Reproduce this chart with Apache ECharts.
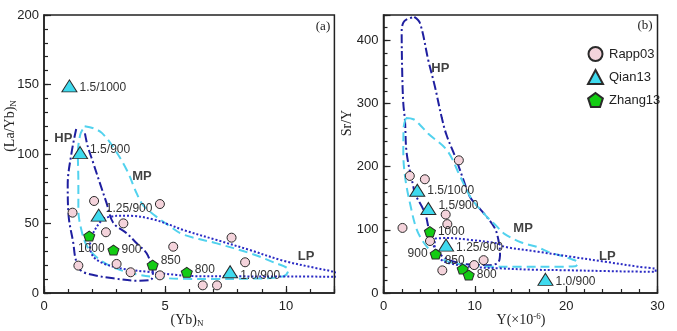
<!DOCTYPE html>
<html>
<head>
<meta charset="utf-8">
<script src="https://cdn.jsdelivr.net/npm/echarts@6/dist/echarts.min.js"></script>
<style>html,body{margin:0;padding:0;background:#fff;}#c{width:677px;height:331px;}</style>
</head>
<body>
<div id="c"></div>
<script>
// ---------- Panel (a): (Yb)N vs (La/Yb)N ----------
const rappA_x = [1.18, 2.07, 1.42, 2.56, 3.28, 3.0, 3.58, 4.79, 4.79, 5.34, 6.56, 7.15, 7.75, 8.31];
const rappA_y = [57.8, 66.2, 19.7, 43.7, 50.1, 20.9, 14.9, 12.7, 64, 33.3, 5.5, 5.5, 39.8, 22.1];
const qianA_x = [1.05, 1.49, 2.26, 7.69];
const qianA_y = [149, 101, 56, 15.3];
const qianA_lab = ['1.5/1000', '1.5/900', '1.25/900', '1.0/900'];
const zhangA_x = [1.87, 2.87, 4.49, 5.9];
const zhangA_y = [41, 30.9, 20.1, 14.9];
const zhangA_lab = ['1000', '900', '850', '800'];
const hpA = [[1.33,118],[1.14,101],[0.98,78],[1.02,55],[1.21,36],[1.3,25],[1.5,16.5],[2.04,12.9],[2.86,10.6],[3.83,8.8],[4.4,9.4],[4.5,14],[4.45,19],[4.24,28.6],[3.83,35.8],[3.42,42.9],[2.86,50.5],[2.59,64.5],[2.31,79],[2.04,93.3],[1.8,106],[1.68,116]];
const mpA = [[1.68,120],[2.05,118.5],[2.4,115],[2.86,105],[3.42,88.5],[3.83,71.7],[4.1,63],[4.6,55.5],[5.2,48],[5.76,42],[7.14,35.7],[8.51,28.6],[9.5,22],[10.1,16.5],[9.9,12],[8.5,10.3],[7,10.1],[5.8,10.2],[4.8,11],[3.8,13.5],[3.0,17.5],[2.3,24],[1.8,33],[1.55,45],[1.42,60],[1.42,80],[1.4,100],[1.5,114],[1.68,120]];
const lpA = [[2.45,53.7],[3.0,55.5],[3.6,55.5],[4.5,53],[5.2,49],[5.76,45.3],[7.14,38.1],[8.51,30.9],[9.89,23.2],[11.27,17.8],[12.1,14.6],[12.2,12.6],[12.0,11.7],[11,11.8],[9.9,11.8],[8,12],[6,12.2],[5.48,13],[4.24,15.3],[3.14,17.8],[2.45,21.4],[2.04,26.1],[1.9,33.3],[1.97,40.5],[2.18,47.7],[2.45,53.7]];
const regionA_lab = ['HP', 'MP', 'LP'];
const regionA_pos = [[0.8,111.3],[4.05,83.7],[10.83,26.1]];

// ---------- Panel (b): Y vs Sr/Y ----------
const rappB_x = [8.25, 2.88, 4.53, 2.08, 6.81, 6.99, 5.09, 6.44, 9.93, 10.96];
const rappB_y = [210, 185.3, 180, 103, 124.2, 109, 82.3, 35.8, 44.2, 52];
const qianB_x = [3.70, 4.91, 6.85, 17.73];
const qianB_y = [162.6, 133.7, 75.8, 21.6];
const qianB_lab = ['1.5/1000', '1.5/900', '1.25/900', '1.0/900'];
const zhangB_x = [5.08, 5.71, 8.67, 9.33];
const zhangB_y = [97, 61.6, 37.9, 28.4];
const zhangB_lab = ['1000', '900', '850', '800'];
const hpB = [[3.37,437],[4.0,427],[4.91,368],[5.64,326],[6.37,278],[6.9,250],[7.87,215],[8.78,178],[9.47,152],[10.2,139],[11.3,120.5],[12.21,102],[12.58,84],[12.76,63],[12.58,49],[11.66,44],[10,45],[8.38,47],[6.55,57],[5.45,76],[5.02,97],[4.55,126],[3.45,157],[3.27,168],[2.54,221],[2.35,273],[2.17,300],[2.06,342],[1.99,415],[2.17,428],[2.54,433],[3.37,437]];
const mpB = [[2.45,277],[3.27,275],[4.0,266],[4.91,252],[6.95,226],[8.41,184],[9.51,152],[10.97,126],[12.43,105],[13.2,94],[15.1,80],[16.8,73],[18.05,65],[20.5,54],[21.3,48],[21.0,42.5],[19,41.5],[15,41.5],[11,42],[9,44],[7,50],[5.5,62],[4.4,80],[3.6,102],[2.9,142],[2.4,180],[2.17,221],[2.2,262],[2.45,277]];
const lpB = [[5.64,86.3],[6.95,87],[9.51,84],[12.43,78.5],[13.3,73],[16.96,65.2],[20.6,57.3],[24.3,49.4],[27.9,41.6],[29.8,37.4],[29.8,33.5],[27,34],[24.3,34.7],[20,36],[16,37],[12.8,39],[9.47,41.6],[7.28,46.9],[6.37,52],[5.82,62.7],[5.6,75],[5.64,86.3]];
const regionB_lab = ['HP', 'MP', 'LP'];
const regionB_pos = [[6.22,354.8],[15.28,102.2],[24.5,57.3]];

// ---------- styles ----------
const SANS = 'Liberation Sans, Arial, sans-serif';
const SERIF = 'Liberation Serif, Times New Roman, serif';
const PENT = 'path://M50,0 L97.6,34.5 L79.4,90.5 L20.6,90.5 L2.4,34.5 Z';
const C_RAPP = '#f4d3db', C_QIAN = '#3fdaee', C_ZHANG = '#13cc13', C_EDGE = '#2a2a2a';
const C_HP = '#1f1fa0', C_MP = '#52d2ee', C_LP = '#2a2ac4';

// label placements (style only)
const qianA_lp = [['right',[0,2]],['right',[0,-3]],['right',[-3,-6]],['right',[0,4]]];
const zhangA_lp = [['bottom',[2,-1]],['right',[0,0]],['right',[0,-4]],['right',[0,-3]]];
const qianB_lp = [['right',[0,0]],['right',[0,-3]],['right',[0,3]],['right',[0,2]]];
const zhangB_lp = [['right',[0,0]],['left',[0,0]],['left',[10,-8]],['right',[0,0]]];

function pts(xs, ys, labs, lps) {
  return xs.map((x, i) => {
    const d = { value: [x, ys[i]] };
    if (labs) {
      d.name = labs[i];
      d.label = { show: true, position: lps[i][0], offset: lps[i][1], distance: 2,
        formatter: '{b}', fontSize: 12, color: '#333', fontFamily: SANS };
    }
    return d;
  });
}
function curve(data, color, type, xi, clip) {
  return { type: 'line', xAxisIndex: xi, yAxisIndex: xi, data: data, smooth: 0.35,
    showSymbol: false, symbol: 'none', clip: clip !== false, z: 2, silent: true,
    lineStyle: { color: color, width: 2, type: type } };
}
function regions(pos, labs, xi) {
  return { type: 'scatter', xAxisIndex: xi, yAxisIndex: xi, symbolSize: 1, silent: true, z: 4,
    itemStyle: { color: 'rgba(0,0,0,0)' },
    data: pos.map((p, i) => ({ value: p, name: labs[i] })),
    label: { show: true, position: 'inside', formatter: '{b}', fontSize: 13, fontWeight: 'bold',
      color: '#111', fontFamily: SANS } };
}
function markers(name, sym, size, color, data, xi) {
  return { type: 'scatter', name: name, xAxisIndex: xi, yAxisIndex: xi, symbol: sym, symbolSize: size,
    z: 5, silent: true, itemStyle: { color: color, borderColor: C_EDGE, borderWidth: 1, opacity: 1 },
    data: data };
}
function valAxis(dim, grid, min, max, interval, major, long, pos) {
  const a = { type: 'value', gridIndex: grid, min: min, max: max, interval: interval, position: pos,
    splitLine: { show: false },
    axisLine: { show: !long, onZero: false, lineStyle: { color: '#222', width: 1.5 } },
    axisTick: { show: true, inside: true, length: long ? 7 : 4, lineStyle: { color: '#222', width: 1.2 } },
    axisLabel: long ? { show: false } : { show: true, margin: dim === 'x' ? 7 : 5,
      fontSize: 13, color: '#222', fontFamily: SANS,
      formatter: v => (Math.abs(v / major - Math.round(v / major)) < 1e-6 ? String(v) : '') } };
  return a;
}

const option = {
  animation: false,
  backgroundColor: '#fff',
  grid: [
    { left: 44, top: 15, width: 290.4, height: 278, show: true, borderColor: '#222', borderWidth: 1.5 },
    { left: 383.5, top: 15, width: 274, height: 278, show: true, borderColor: '#222', borderWidth: 1.5 }
  ],
  xAxis: [
    valAxis('x', 0, 0, 12, 1, 5, false, 'bottom'),
    valAxis('x', 0, 0, 12, 5, 5, true, 'bottom'),
    valAxis('x', 1, 0, 30, 2, 10, false, 'bottom'),
    valAxis('x', 1, 0, 30, 10, 10, true, 'bottom')
  ],
  yAxis: [
    valAxis('y', 0, 0, 200, 10, 50, false, 'left'),
    valAxis('y', 0, 0, 200, 50, 50, true, 'left'),
    valAxis('y', 1, 0, 440, 20, 100, false, 'left'),
    valAxis('y', 1, 0, 440, 100, 100, true, 'left')
  ],
  legend: {
    orient: 'vertical', left: 587, top: 46, padding: 0, itemWidth: 15, itemHeight: 14, itemGap: 7,
    data: ['Rapp03', 'Qian13', 'Zhang13'], selectedMode: false,
    textStyle: { fontSize: 13, lineHeight: 14, color: '#222', fontFamily: SANS, padding: [0, 0, 0, 1] }
  },
  series: [
    curve(hpA, C_HP, [9, 3, 2, 3], 0),
    curve(mpA, C_MP, [9, 5], 0),
    curve(lpA, C_LP, [2, 2], 0, false),
    curve(hpB, C_HP, [9, 3, 2, 3], 2),
    curve(mpB, C_MP, [9, 5], 2),
    curve(lpB, C_LP, [2, 2], 2),
    regions(regionA_pos, regionA_lab, 0),
    regions(regionB_pos, regionB_lab, 2),
    markers('Rapp03', 'circle', 9, C_RAPP, pts(rappA_x, rappA_y), 0),
    markers('Qian13', 'triangle', [15, 12], C_QIAN, pts(qianA_x, qianA_y, qianA_lab, qianA_lp), 0),
    markers('Zhang13', PENT, [11, 10], C_ZHANG, pts(zhangA_x, zhangA_y, zhangA_lab, zhangA_lp), 0),
    markers('Rapp03', 'circle', 9, C_RAPP, pts(rappB_x, rappB_y), 2),
    markers('Qian13', 'triangle', [15, 12], C_QIAN, pts(qianB_x, qianB_y, qianB_lab, qianB_lp), 2),
    markers('Zhang13', PENT, [11, 10], C_ZHANG, pts(zhangB_x, zhangB_y, zhangB_lab, zhangB_lp), 2)
  ],
  graphic: [
    { type: 'text', x: 323, y: 27, silent: true,
      style: { text: '(a)', fontSize: 13, fontFamily: SERIF, fill: '#222', align: 'center', verticalAlign: 'middle' } },
    { type: 'text', x: 645, y: 26, silent: true,
      style: { text: '(b)', fontSize: 13, fontFamily: SERIF, fill: '#222', align: 'center', verticalAlign: 'middle' } },
    { type: 'text', x: 10, y: 126, rotation: Math.PI / 2, silent: true,
      style: { text: '{m|(La/Yb)}{s|N}', align: 'center', verticalAlign: 'middle', fill: '#222',
        rich: { m: { fontSize: 14, fontFamily: SERIF, fill: '#222' },
                s: { fontSize: 9, fontFamily: SERIF, fill: '#222', padding: [7, 0, 0, 0] } } } },
    { type: 'text', x: 347, y: 123, rotation: Math.PI / 2, silent: true,
      style: { text: 'Sr/Y', fontSize: 14, fontFamily: SERIF, fill: '#222', align: 'center', verticalAlign: 'middle' } },
    { type: 'text', x: 187, y: 320, silent: true,
      style: { text: '{m|(Yb)}{s|N}', align: 'center', verticalAlign: 'middle', fill: '#222',
        rich: { m: { fontSize: 14, fontFamily: SERIF, fill: '#222' },
                s: { fontSize: 9, fontFamily: SERIF, fill: '#222', padding: [7, 0, 0, 0] } } } },
    { type: 'text', x: 521, y: 320, silent: true,
      style: { text: '{m|Y(\u00d710}{p|-6}{m|)}', align: 'center', verticalAlign: 'middle', fill: '#222',
        rich: { m: { fontSize: 14, fontFamily: SERIF, fill: '#222' },
                p: { fontSize: 9, fontFamily: SERIF, fill: '#222', padding: [0, 0, 7, 0] } } } }
  ]
};

const chart = echarts.init(document.getElementById('c'), null, { renderer: 'canvas' });
chart.setOption(option);
</script>
</body>
</html>
